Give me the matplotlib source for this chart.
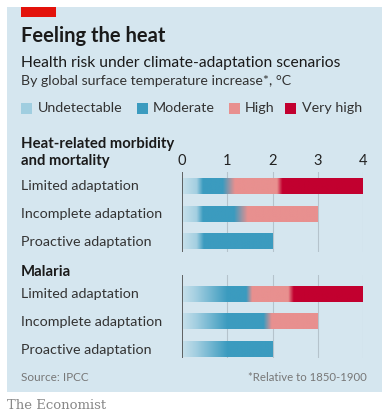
import numpy as np
from matplotlib import pyplot as plt, patches, colors as mcolors

# risk levels: 0 = faded start of the undetectable band
LEVEL_NAMES = ["Undetectable", "Moderate", "High", "Very high"]
LEVEL_COLOURS = ["#c8e1eb", "#a4cfe1", "#3b9bbf", "#e8908f", "#c2002f"]
LEGEND_COLOURS = ["#a0cee0", "#3b9bbf", "#e8908f", "#c2002f"]

ROWS = ["Limited adaptation", "Incomplete adaptation", "Proactive adaptation"]
TICKS = [0, 1, 2, 3, 4]

# colour stops along each bar: positions (deg C) and risk level at that point
HEAT_POS = [
    [0, 0.32, 0.46, 0.9, 1.17, 2.1, 2.22, 4.0],
    [0, 0.32, 0.46, 1.15, 1.45, 3.0],
    [0, 0.32, 0.48, 2.0],
]
HEAT_LEVELS = [
    [0, 1, 2, 2, 3, 3, 4, 4],
    [0, 1, 2, 2, 3, 3],
    [0, 1, 2, 2],
]
MALARIA_POS = [
    [0, 0.3, 1.0, 1.42, 1.55, 2.35, 2.47, 4.0],
    [0, 0.3, 1.0, 1.8, 1.98, 3.0],
    [0, 0.3, 1.0, 2.0],
]
MALARIA_LEVELS = [
    [0, 1, 2, 2, 3, 3, 4, 4],
    [0, 1, 2, 2, 3, 3],
    [0, 1, 2, 2],
]

BG = "#d5e6ef"
W, H = 388, 419


def gradient(pos, levels, n=400):
    rgb = np.array([mcolors.to_rgb(LEVEL_COLOURS[l]) for l in levels])
    xs = np.linspace(pos[0], pos[-1], n)
    img = np.stack([np.interp(xs, pos, rgb[:, c]) for c in range(3)], axis=-1)
    return img[np.newaxis, :, :]


def add_panel(top, bottom, ylim, pos_list, level_list, show_ticks):
    ax = fig.add_axes([182 / W, 1 - bottom / H, 181 / W, (bottom - top) / H])
    ax.set_facecolor("none")
    for s in ax.spines.values():
        s.set_visible(False)
    ax.set_yticks([])
    for t in TICKS[1:]:
        ax.axvline(t, color="#b5c3cc", lw=0.8, zorder=0)
    ax.axvline(0, color="#4a4a4a", lw=1.2, zorder=3)
    for i, (pos, lev) in enumerate(zip(pos_list, level_list)):
        ax.imshow(gradient(pos, lev), extent=(pos[0], pos[-1], i + 0.27, i - 0.27),
                  aspect="auto", interpolation="bilinear", zorder=2)
    ax.set_ylim(*ylim)
    ax.set_xlim(0, 4)
    if show_ticks:
        ax.xaxis.tick_top()
        ax.set_xticks(TICKS)
        ax.set_xticklabels([str(t) for t in TICKS], fontsize=10.5, color="#222222",
                           family="Lato")
        ax.tick_params(axis="x", length=0, pad=3)
    else:
        ax.set_xticks([])
    return ax


fig = plt.figure(figsize=(W / 100, H / 100), dpi=100)
renderer = fig.canvas.get_renderer()


def rect(x, y, w, h, c):
    fig.patches.append(patches.Rectangle((x / W, 1 - (y + h) / H), w / W, h / H,
                                         transform=fig.transFigure, facecolor=c,
                                         edgecolor="none", zorder=-1))


rect(7, 7, 375, 385, BG)
rect(21, 7, 35, 10, "#e3120b")


def txt(x, y, s, width=None, **kw):
    kw.setdefault("family", "Lato")
    kw.setdefault("color", "#1a1a1a")
    kw.setdefault("va", "center")
    t = fig.text(x / W, 1 - y / H, s, **kw)
    if width:
        # scale the font so the text spans the same width as in the original
        for _ in range(3):
            bw = t.get_window_extent(renderer).width
            t.set_fontsize(t.get_fontsize() * width / bw)
    return t


txt(21, 36, "Feeling the heat", 145, fontsize=14, weight="bold")
txt(21, 63, "Health risk under climate-adaptation scenarios", 318, fontsize=11)
txt(21, 81, "By global surface temperature increase*, \u00b0C", 271, fontsize=9.8,
    color="#333333")

lx = [21, 137, 229, 285]
tx = [38, 153, 245, 302]
ref = txt(tx[0], 108, LEVEL_NAMES[0], 85, fontsize=10, color="#333333")
legend_fs = ref.get_fontsize()
for x, x2, name, c in zip(lx, tx, LEVEL_NAMES, LEGEND_COLOURS):
    rect(x, 103, 11, 11, c)
    if name != LEVEL_NAMES[0]:
        txt(x2, 108, name, fontsize=legend_fs, color="#333333")

hdr = txt(21, 144, "Heat-related morbidity", 153, fontsize=10.6, weight="bold")
hdr_fs = hdr.get_fontsize()
txt(21, 161, "and mortality", fontsize=hdr_fs, weight="bold")
txt(21, 272, "Malaria", fontsize=hdr_fs, weight="bold")

row = txt(21, 214, ROWS[1], 141, fontsize=10.3, color="#333333")
row_fs = row.get_fontsize()
for y0 in (186, 294):
    for i, r in enumerate(ROWS):
        if y0 == 186 and i == 1:
            continue
        txt(21, y0 + i * 28, r, fontsize=row_fs, color="#333333")

add_panel(172, 252, (2.36, -0.5), HEAT_POS, HEAT_LEVELS, True)
add_panel(275, 358, (2.29, -0.68), MALARIA_POS, MALARIA_LEVELS, False)

txt(21, 377, "Source: IPCC", 68, fontsize=9, color="#777777")
txt(367, 377, "*Relative to 1850-1900", 120, fontsize=8.5, color="#777777", ha="right")
txt(7, 405, "The Economist", 99, fontsize=9.5, color="#888888", family="DejaVu Serif")

fig.savefig("out.png", dpi=100, facecolor="white")
